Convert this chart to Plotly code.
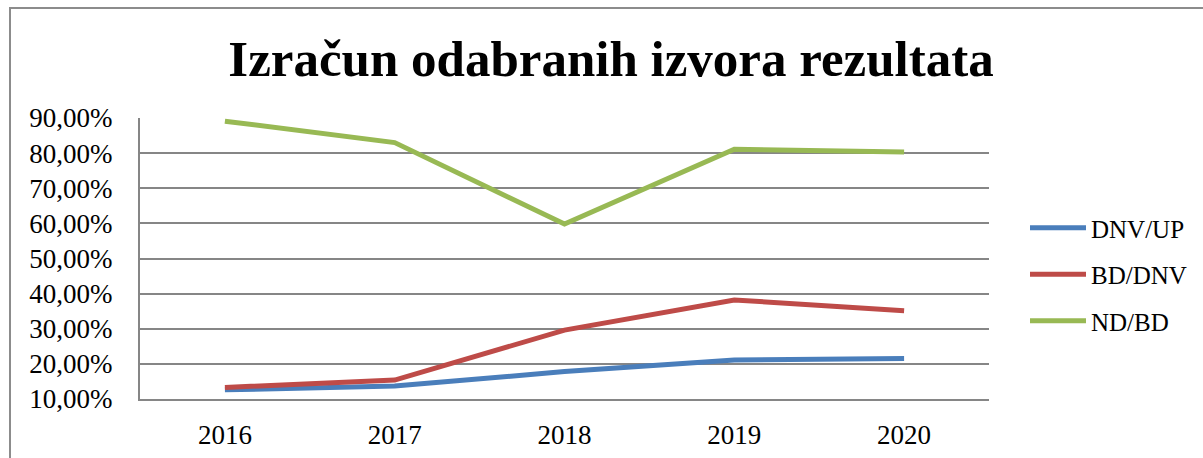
import plotly.graph_objects as go

years = ["2016", "2017", "2018", "2019", "2020"]
dnv_up = [0.126, 0.137, 0.178, 0.211, 0.215]
bd_dnv = [0.133, 0.154, 0.296, 0.382, 0.351]
nd_bd = [0.891, 0.830, 0.598, 0.811, 0.803]

series_names = ["DNV/UP", "BD/DNV", "ND/BD"]
series_colors = ["#4A7EBB", "#BE4B48", "#98B954"]
y_ticks = [0.1, 0.2, 0.3, 0.4, 0.5, 0.6, 0.7, 0.8, 0.9]

W, H = 1203, 458
L, R, T, B = 140, 989, 118, 399

fig = go.Figure()
for i, (name, vals, col) in enumerate(zip(series_names, [dnv_up, bd_dnv, nd_bd], series_colors)):
    fig.add_trace(go.Scatter(
        x=years, y=vals, name=name, mode="lines",
        line=dict(color=col, width=5),
        legendgroup=name, hoverinfo="skip",
    ))

def px(x):
    return (x - L) / (R - L)

def py(y):
    return (B - y) / (B - T)

fig.add_shape(type="rect", xref="paper", yref="paper",
              x0=px(10), x1=px(1215), y0=py(8), y1=py(470),
              line=dict(color="#8C8C8C", width=2), fillcolor="rgba(0,0,0,0)", layer="below")

serif = "Liberation Serif"
fig.update_layout(
    width=W, height=H,
    margin=dict(l=L, r=W - R, t=T, b=H - B, pad=0, autoexpand=False),
    paper_bgcolor="white", plot_bgcolor="white",
    separators=",.",
    title=dict(text="<b>Izračun odabranih izvora rezultata</b>",
               font=dict(family=serif, size=51, color="black"),
               x=611 / W, xanchor="center", xref="container",
               y=1 - 58 / H, yanchor="middle", yref="container"),
    xaxis=dict(type="category", range=[-0.5, 4.5], showgrid=False,
               showline=True, linecolor="#868686", linewidth=2,
               ticks="", tickfont=dict(family=serif, size=27, color="black"),
               ticklabelstandoff=11, fixedrange=True),
    yaxis=dict(range=[0.1, 0.9], tickvals=y_ticks, tickformat=".2%",
               showgrid=True, gridcolor="#868686", gridwidth=2,
               showline=True, linecolor="#868686", linewidth=2,
               zeroline=False, ticks="",
               tickfont=dict(family=serif, size=27, color="black"),
               ticklabelstandoff=20, fixedrange=True),
    legend=dict(x=px(1025), xref="paper", y=py(205), yref="paper", yanchor="top",
                font=dict(family=serif, size=25, color="black"),
                tracegroupgap=11, itemwidth=56, bgcolor="rgba(0,0,0,0)"),
    showlegend=True,
)

fig.write_html("out.html")
